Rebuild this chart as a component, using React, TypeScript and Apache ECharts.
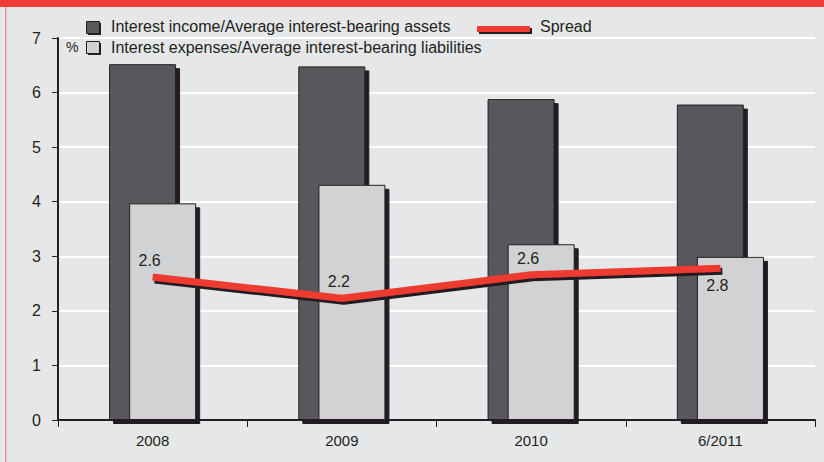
import React, { useEffect, useRef } from "react";
import * as echarts from "echarts";

const categories = ["2008", "2009", "2010", "6/2011"];
const incomeValues = [6.52, 6.48, 5.88, 5.78];
const expenseValues = [3.97, 4.31, 3.22, 2.99];
const spreadValues = [2.62, 2.23, 2.66, 2.78];
const spreadLabels = ["2.6", "2.2", "2.6", "2.8"];
const yTicks = { min: 0, max: 7, interval: 1 };

const incomeName = "Interest income/Average interest-bearing assets";
const expenseName = "Interest expenses/Average interest-bearing liabilities";
const spreadName = "Spread";

const DARK = "#58595B";
const LIGHT = "#D1D2D4";
const INK = "#231F20";
const RED = "#EE3B33";
const BG = "#E6E7E8";
const FONT = "'Liberation Sans', Arial, sans-serif";

export default function App() {
  const ref = useRef<HTMLDivElement>(null);
  useEffect(() => {
    document.body.style.margin = "0";
    if (!ref.current) return;
    const chart = echarts.init(ref.current, null, { renderer: "svg" });
    const labelPlace = ["top", "top", "top", "bottom"];
    const spreadData = spreadValues.map((v, i) => ({
      value: v,
      label: {
        show: true,
        position: labelPlace[i],
        distance: labelPlace[i] === "top" ? 8 : 9,
        offset: [-3, 0],
        formatter: () => spreadLabels[i],
      },
    }));
    chart.setOption({
      animation: false,
      backgroundColor: BG,
      textStyle: { fontFamily: FONT },
      grid: { left: 58, right: 9, top: 38, bottom: 42, containLabel: false },
      xAxis: {
        type: "category",
        data: categories,
        axisLine: { show: true, lineStyle: { color: INK, width: 2 } },
        axisTick: { show: true, length: 7, alignWithLabel: false, lineStyle: { color: INK, width: 1 } },
        axisLabel: { color: INK, fontSize: 15, margin: 13, fontFamily: FONT },
        splitLine: { show: false },
      },
      yAxis: {
        type: "value",
        min: yTicks.min,
        max: yTicks.max,
        interval: yTicks.interval,
        axisLine: { show: true, lineStyle: { color: INK, width: 2 } },
        axisTick: { show: true, length: 6, lineStyle: { color: INK, width: 1 } },
        axisLabel: { color: INK, fontSize: 16, margin: 17, fontFamily: FONT },
        splitLine: { show: true, lineStyle: { color: "#FFFFFF", width: 2 } },
      },
      series: [
        {
          name: incomeName,
          type: "bar",
          data: incomeValues,
          barWidth: 67,
          barGap: "-70%",
          itemStyle: {
            color: DARK,
            borderColor: INK,
            borderWidth: 1,
            shadowColor: INK,
            shadowBlur: 0,
            shadowOffsetX: 4,
            shadowOffsetY: 4,
          },
          z: 2,
        },
        {
          name: expenseName,
          type: "bar",
          data: expenseValues,
          barWidth: 67,
          barGap: "-70%",
          itemStyle: {
            color: LIGHT,
            borderColor: INK,
            borderWidth: 1,
            shadowColor: INK,
            shadowBlur: 0,
            shadowOffsetX: 4,
            shadowOffsetY: 4,
          },
          z: 3,
        },
        {
          name: spreadName,
          type: "line",
          data: spreadData,
          symbol: "circle",
          symbolSize: 1,
          showSymbol: true,
          itemStyle: { color: "rgba(0,0,0,0)", borderWidth: 0 },
          lineStyle: {
            color: RED,
            width: 7,
            shadowColor: INK,
            shadowBlur: 0,
            shadowOffsetX: 2,
            shadowOffsetY: 3,
          },
          label: { show: true, color: INK, fontSize: 16, fontFamily: FONT },
          z: 5,
        },
      ],
      graphic: [
        { type: "rect", left: 0, top: 0, shape: { width: 824, height: 7 }, style: { fill: RED }, z: 10 },
        { type: "rect", left: 5, top: 7, shape: { width: 1.5, height: 455 }, style: { fill: "#F2928C" }, z: 10 },
        // legend row 1
        { type: "rect", left: 88, top: 23, shape: { width: 13, height: 12 }, style: { fill: INK }, z: 10 },
        { type: "rect", left: 86, top: 21, shape: { width: 13, height: 12 }, style: { fill: DARK, stroke: INK, lineWidth: 1 }, z: 11 },
        { type: "text", left: 111, top: 18, style: { text: incomeName, fill: INK, font: `16px ${FONT}` }, z: 11 },
        { type: "rect", left: 479, top: 28, shape: { width: 53, height: 6 }, style: { fill: INK }, z: 10 },
        { type: "rect", left: 477, top: 26, shape: { width: 53, height: 6 }, style: { fill: RED }, z: 11 },
        { type: "text", left: 540, top: 18, style: { text: spreadName, fill: INK, font: `16px ${FONT}` }, z: 11 },
        // legend row 2
        { type: "text", left: 66, top: 40, style: { text: "%", fill: INK, font: `14px ${FONT}` }, z: 11 },
        { type: "rect", left: 88, top: 43, shape: { width: 13, height: 12 }, style: { fill: INK }, z: 10 },
        { type: "rect", left: 86, top: 41, shape: { width: 13, height: 12 }, style: { fill: LIGHT, stroke: INK, lineWidth: 1 }, z: 11 },
        { type: "text", left: 111, top: 39, style: { text: expenseName, fill: INK, font: `16px ${FONT}` }, z: 11 },
      ],
    });
    return () => chart.dispose();
  }, []);
  return <div ref={ref} style={{ width: 824, height: 462 }} />;
}
